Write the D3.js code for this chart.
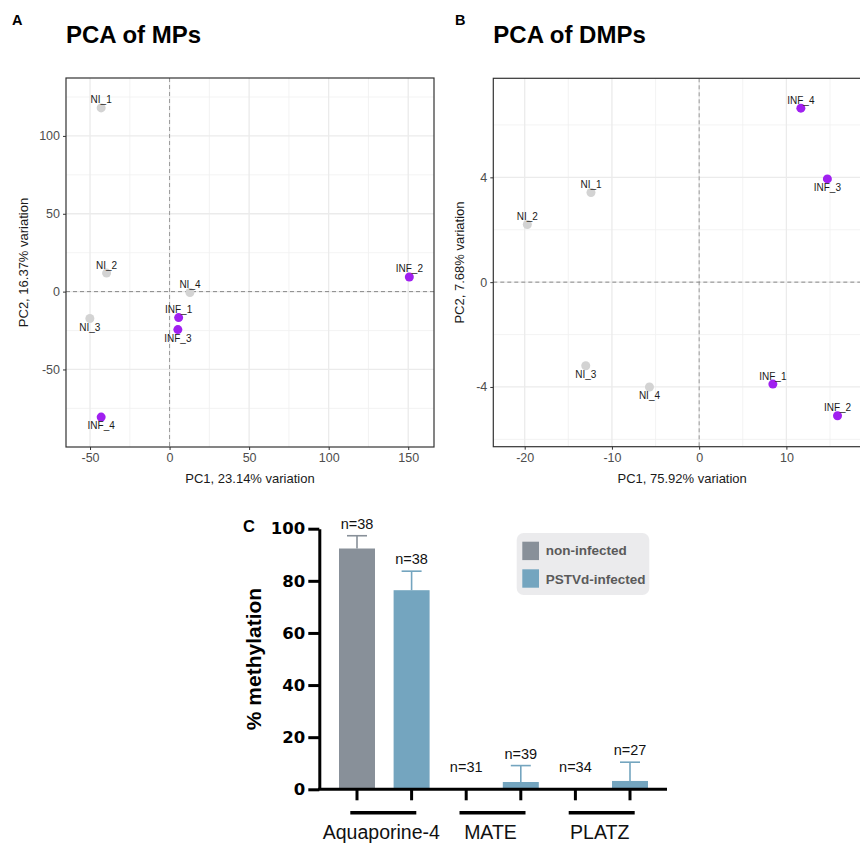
<!DOCTYPE html>
<html>
<head>
<meta charset="utf-8">
<script src="https://cdn.jsdelivr.net/npm/d3@7"></script>
<style>
  body { margin: 0; background: #fff; }
  svg { display: block; font-family: "Liberation Sans", Arial, sans-serif; }
</style>
</head>
<body>
<div id="fig"></div>
<script>
// ---- data ----
const sampleNames = ["NI_1", "NI_2", "NI_3", "NI_4", "INF_1", "INF_2", "INF_3", "INF_4"];
const sampleGroup = ["NI", "NI", "NI", "NI", "INF", "INF", "INF", "INF"];

// PCA of MPs
const mpsPC1 = [-43, -39.6, -50.1, 12.8, 5.7, 150.7, 5.2, -43];
const mpsPC2 = [118, 11.9, -17.3, -0.6, -16.7, 9.4, -24.4, -80.6];
const mpsLabelSide = ["top", "top", "bottom", "top", "top", "top", "bottom", "bottom"];

// PCA of DMPs
const dmpsPC1 = [-12.4, -19.7, -13.0, -5.7, 8.45, 15.86, 14.7, 11.66];
const dmpsPC2 = [3.42, 2.2, -3.19, -4.0, -3.89, -5.1, 3.94, 6.64];
const dmpsLabelSide = ["top", "top", "bottom", "bottom", "top", "top", "bottom", "top"];

// % methylation
const genes = ["Aquaporine-4", "MATE", "PLATZ"];
const conditions = ["non-infected", "PSTVd-infected"];
const meanNonInf = [92.4, 0, 0];
const meanInf = [76.4, 2.8, 3.2];
const sdNonInf = [4.9, 0, 0];
const sdInf = [7.3, 6.3, 7.2];
const nNonInf = [38, 31, 34];
const nInf = [38, 39, 27];

const groupColor = { NI: "#d3d3d3", INF: "#a020f0" };
const barColor = { "non-infected": "#889099", "PSTVd-infected": "#74a5bf" };

const svg = d3.select("#fig").append("svg")
    .attr("width", 860)
    .attr("height", 843);

// ---- PCA panel ----
function pcaPanel(opt) {
    let g = svg.append("g");
    let x = d3.scaleLinear().domain(opt.xDomain).range([opt.left, opt.right]);
    let y = d3.scaleLinear().domain(opt.yDomain).range([opt.bottom, opt.top]);

    // panel letter + title
    g.append("text").attr("x", opt.letterX).attr("y", 25)
        .attr("font-size", 14.5).attr("font-weight", "bold").text(opt.letter);
    g.append("text").attr("x", opt.left).attr("y", 43)
        .attr("font-size", 24).attr("font-weight", "bold").text(opt.title);

    // grid
    let grid = g.append("g");
    grid.selectAll(".minx").data(opt.xMinor).enter().append("line")
        .attr("x1", d => x(d)).attr("x2", d => x(d))
        .attr("y1", opt.top).attr("y2", opt.bottom)
        .attr("stroke", "#f0f0f0").attr("stroke-width", 0.8);
    grid.selectAll(".miny").data(opt.yMinor).enter().append("line")
        .attr("y1", d => y(d)).attr("y2", d => y(d))
        .attr("x1", opt.left).attr("x2", opt.right)
        .attr("stroke", "#f0f0f0").attr("stroke-width", 0.8);
    grid.selectAll(".majx").data(opt.xTicks).enter().append("line")
        .attr("x1", d => x(d)).attr("x2", d => x(d))
        .attr("y1", opt.top).attr("y2", opt.bottom)
        .attr("stroke", "#ebebeb").attr("stroke-width", 1.3);
    grid.selectAll(".majy").data(opt.yTicks).enter().append("line")
        .attr("y1", d => y(d)).attr("y2", d => y(d))
        .attr("x1", opt.left).attr("x2", opt.right)
        .attr("stroke", "#ebebeb").attr("stroke-width", 1.3);

    // zero lines
    g.append("line").attr("x1", x(0)).attr("x2", x(0))
        .attr("y1", opt.top).attr("y2", opt.bottom)
        .attr("stroke", "#999").attr("stroke-dasharray", "4,3");
    g.append("line").attr("y1", y(0)).attr("y2", y(0))
        .attr("x1", opt.left).attr("x2", opt.right)
        .attr("stroke", "#888").attr("stroke-dasharray", "4,3");

    // axes
    let xAxis = g.append("g").attr("transform", `translate(0,${opt.bottom})`)
        .call(d3.axisBottom(x).tickValues(opt.xTicks).tickSize(3).tickSizeOuter(0).tickFormat(d => String(d)));
    let yAxis = g.append("g").attr("transform", `translate(${opt.left},0)`)
        .call(d3.axisLeft(y).tickValues(opt.yTicks).tickSize(3).tickSizeOuter(0).tickFormat(d => String(d)));
    [xAxis, yAxis].forEach(a => {
        a.select(".domain").remove();
        a.selectAll(".tick line").attr("stroke", "#333");
        a.selectAll(".tick text").attr("fill", "#4d4d4d").attr("font-size", 12.5)
            .attr("font-family", "Liberation Sans, Arial, sans-serif");
    });

    // border
    g.append("rect").attr("x", opt.left).attr("y", opt.top)
        .attr("width", opt.right - opt.left).attr("height", opt.bottom - opt.top)
        .attr("fill", "none").attr("stroke", "#333").attr("stroke-width", 1.2);

    // axis titles
    g.append("text").attr("x", (opt.left + opt.right) / 2).attr("y", opt.bottom + 36)
        .attr("text-anchor", "middle").attr("font-size", 13).attr("fill", "#1a1a1a")
        .text(opt.xTitle);
    g.append("text")
        .attr("transform", `translate(${opt.yTitleX},${(opt.top + opt.bottom) / 2}) rotate(-90)`)
        .attr("text-anchor", "middle").attr("dominant-baseline", "central")
        .attr("font-size", 13).attr("fill", "#1a1a1a").text(opt.yTitle);

    // points
    let pts = sampleNames.map((s, i) => ({
        name: s, group: sampleGroup[i], pc1: opt.pc1[i], pc2: opt.pc2[i], side: opt.side[i]
    }));
    g.selectAll(".pt").data(pts).enter().append("circle")
        .attr("cx", d => x(d.pc1)).attr("cy", d => y(d.pc2))
        .attr("r", 4.5).attr("fill", d => groupColor[d.group]);
    g.selectAll(".lbl").data(pts).enter().append("text")
        .attr("x", d => x(d.pc1))
        .attr("y", d => y(d.pc2) + (d.side === "top" ? -4.5 : 12))
        .attr("text-anchor", "middle").attr("font-size", 10).attr("fill", "#1a1a1a")
        .text(d => d.name);
}

pcaPanel({
    letter: "A", letterX: 12, title: "PCA of MPs",
    left: 66, right: 434, top: 78, bottom: 447,
    xDomain: [-65.1, 166.2], yDomain: [-99.8, 137.2],
    xTicks: [-50, 0, 50, 100, 150], xMinor: [-25, 25, 75, 125],
    yTicks: [-50, 0, 50, 100], yMinor: [-75, -25, 25, 75, 125],
    xTitle: "PC1, 23.14% variation", yTitle: "PC2, 16.37% variation", yTitleX: 23,
    pc1: mpsPC1, pc2: mpsPC2, side: mpsLabelSide
});

pcaPanel({
    letter: "B", letterX: 455, title: "PCA of DMPs",
    left: 493.3, right: 871, top: 78.3, bottom: 446.7,
    xDomain: [-23.6, 19.7], yDomain: [-6.28, 7.78],
    xTicks: [-20, -10, 0, 10], xMinor: [-15, -5, 5, 15],
    yTicks: [-4, 0, 4], yMinor: [-6, -2, 2, 6],
    xTitle: "PC1, 75.92% variation", yTitle: "PC2, 7.68% variation", yTitleX: 459.5,
    pc1: dmpsPC1, pc2: dmpsPC2, side: dmpsLabelSide
});

// ---- bar panel C ----
const bars = [];
genes.forEach((gname, i) => {
    bars.push({ gene: gname, cond: conditions[0], mean: meanNonInf[i], sd: sdNonInf[i], n: nNonInf[i] });
    bars.push({ gene: gname, cond: conditions[1], mean: meanInf[i], sd: sdInf[i], n: nInf[i] });
});

const c = svg.append("g");
const xg = d3.scaleBand().domain(genes).range([329.7, 657.3]);
const xc = d3.scaleBand().domain(conditions).range([0, xg.bandwidth()]);
const yC = d3.scaleLinear().domain([0, 100]).range([789.3, 528.7]);
const barW = 36;
const cx = d => xg(d.gene) + xc(d.cond) + xc.bandwidth() / 2;

c.selectAll(".bar").data(bars).enter().append("rect")
    .attr("x", d => cx(d) - barW / 2).attr("width", barW)
    .attr("y", d => yC(d.mean)).attr("height", d => yC(0) - yC(d.mean))
    .attr("fill", d => barColor[d.cond]);

// error bars (upper only)
const eb = c.selectAll(".err").data(bars.filter(d => d.sd > 0)).enter().append("g");
eb.append("line")
    .attr("x1", d => cx(d)).attr("x2", d => cx(d))
    .attr("y1", d => yC(d.mean)).attr("y2", d => yC(d.mean + d.sd))
    .attr("stroke", d => barColor[d.cond]).attr("stroke-width", 1.6);
eb.append("line")
    .attr("x1", d => cx(d) - 10).attr("x2", d => cx(d) + 10)
    .attr("y1", d => yC(d.mean + d.sd)).attr("y2", d => yC(d.mean + d.sd))
    .attr("stroke", d => barColor[d.cond]).attr("stroke-width", 1.6);

// n labels
c.selectAll(".nlab").data(bars).enter().append("text")
    .attr("x", d => cx(d))
    .attr("y", d => yC(Math.max(d.mean + d.sd, 4)) - 7)
    .attr("text-anchor", "middle").attr("font-size", 14.5).attr("fill", "#111")
    .text(d => "n=" + d.n);

// y axis
const yAx = c.append("g").attr("transform", "translate(319.3,0)")
    .call(d3.axisLeft(yC).tickValues([0, 20, 40, 60, 80, 100]).tickSize(11).tickSizeOuter(0).tickPadding(3));
yAx.select(".domain").attr("stroke", "#000").attr("stroke-width", 3);
yAx.selectAll(".tick line").attr("stroke", "#000").attr("stroke-width", 3);
yAx.selectAll(".tick text").attr("font-family", "DejaVu Sans, sans-serif")
    .attr("font-weight", "bold").attr("font-size", 16.5).attr("fill", "#000");

// x axis line + ticks
c.append("line").attr("x1", 318).attr("x2", 667).attr("y1", yC(0)).attr("y2", yC(0))
    .attr("stroke", "#000").attr("stroke-width", 3);
c.selectAll(".xt").data(bars).enter().append("line")
    .attr("x1", d => cx(d)).attr("x2", d => cx(d))
    .attr("y1", yC(0)).attr("y2", yC(0) + 11)
    .attr("stroke", "#000").attr("stroke-width", 3);

// gene underlines and labels
c.selectAll(".gline").data(genes).enter().append("line")
    .attr("x1", d => xg(d) + xg.bandwidth() / 2 - 34)
    .attr("x2", d => xg(d) + xg.bandwidth() / 2 + 32)
    .attr("y1", 812.7).attr("y2", 812.7)
    .attr("stroke", "#000").attr("stroke-width", 3.6);
c.selectAll(".glab").data(genes).enter().append("text")
    .attr("x", d => xg(d) + xg.bandwidth() / 2 - 3)
    .attr("y", 838.5)
    .attr("text-anchor", "middle").attr("font-size", 19.5).attr("fill", "#111")
    .text(d => d);

// y title + panel letter
c.append("text")
    .attr("transform", `translate(253,${(yC(0) + yC(100)) / 2}) rotate(-90)`)
    .attr("text-anchor", "middle").attr("dominant-baseline", "central")
    .attr("font-size", 21).attr("font-weight", "bold").text("% methylation");
c.append("text").attr("x", 249).attr("y", 532).attr("text-anchor", "middle")
    .attr("font-size", 16.5).attr("font-weight", "bold").text("C");

// legend
const leg = c.append("g").attr("transform", "translate(516.7,533)");
leg.append("rect").attr("width", 132.6).attr("height", 62).attr("rx", 7)
    .attr("fill", "#ebebed");
conditions.forEach((cond, i) => {
    leg.append("rect").attr("x", 5.6).attr("y", 8.7 + i * 27.6)
        .attr("width", 16.7).attr("height", 18.4).attr("fill", barColor[cond]);
    leg.append("text").attr("x", 29).attr("y", 22 + i * 29)
        .attr("font-size", 13.5).attr("font-weight", "bold").attr("fill", "#5a5a5a")
        .text(cond);
});
</script>
</body>
</html>
